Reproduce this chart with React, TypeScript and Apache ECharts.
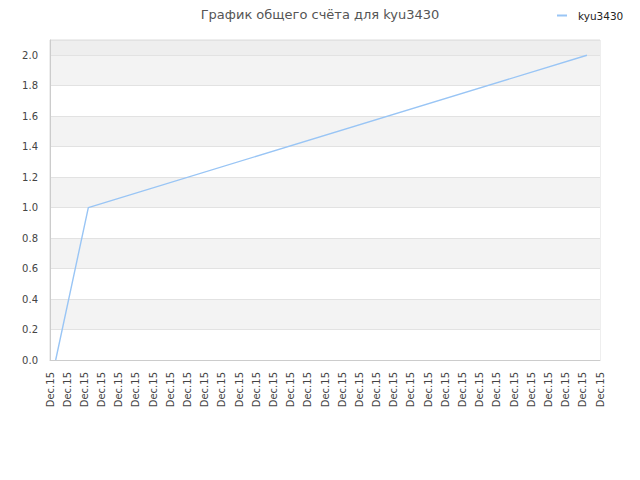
import React, { useEffect, useRef } from 'react';
import * as echarts from 'echarts';

// score history for kyu3430 (x = position along the time axis, in label steps)
const pointX = [0.33, 2.23, 31.24];
const pointY = [0, 1, 2];
const tickLabel = 'Dec.15';
const tickCount = 33;
const seriesName = 'kyu3430';
const titleText = 'График общего счёта для kyu3430';

// alternating bands, top partial band a bit darker
const bandColors = [
  '#ffffff', '#f3f3f3', '#ffffff', '#f3f3f3', '#ffffff', '#f3f3f3',
  '#ffffff', '#f3f3f3', '#ffffff', '#f3f3f3', '#eeeeee',
];

const font = 'DejaVu Sans';

const App: React.FC = () => {
  const chartRef = useRef<HTMLDivElement>(null);

  useEffect(() => {
    if (!chartRef.current) return;
    const chart = echarts.init(chartRef.current, undefined, { renderer: 'svg' });

    const option = {
      animation: false,
      textStyle: { fontFamily: font },
      title: {
        text: titleText,
        left: 'center',
        top: 3,
        textStyle: { fontFamily: font, fontSize: 13, fontWeight: 'normal', color: '#555555' },
      },
      legend: {
        left: 552,
        top: 5,
        itemWidth: 10,
        itemHeight: 2,
        icon: 'rect',
        textStyle: { fontFamily: font, fontSize: 10.5, color: '#222222', padding: [0, 0, 0, 6] },
        data: [seriesName],
      },
      grid: {
        left: 50,
        right: 40,
        top: 40,
        bottom: 120,
        show: true,
        borderColor: '#dddddd',
        borderWidth: 1,
      },
      xAxis: {
        type: 'value',
        min: 0,
        max: tickCount - 1,
        interval: 1,
        axisLine: { lineStyle: { color: '#cccccc' } },
        axisTick: { show: false },
        splitLine: { show: false },
        axisLabel: {
          rotate: 90,
          margin: 12,
          fontFamily: font,
          fontSize: 10,
          color: '#444444',
          formatter: () => tickLabel,
        },
      },
      yAxis: {
        type: 'value',
        min: 0,
        max: 2.1,
        interval: 0.2,
        axisLine: { show: true, lineStyle: { color: '#cccccc' } },
        axisTick: { show: false },
        splitLine: { lineStyle: { color: '#e2e2e2' } },
        splitArea: { show: true, areaStyle: { color: bandColors } },
        axisLabel: {
          margin: 12,
          fontFamily: font,
          fontSize: 10,
          color: '#444444',
          formatter: (v: number) => (v > 2.05 ? '' : v.toFixed(1)),
        },
      },
      series: [
        {
          name: seriesName,
          type: 'line',
          data: pointX.map((x, i) => [x, pointY[i]]),
          showSymbol: false,
          symbol: 'none',
          lineStyle: { color: '#99c5f5', width: 1.4 },
          itemStyle: { color: '#99c5f5' },
        },
      ],
    };

    chart.setOption(option);
    return () => {
      chart.dispose();
    };
  }, []);

  return (
    <div
      ref={chartRef}
      style={{ position: 'absolute', left: 0, top: 0, width: '640px', height: '480px', background: '#ffffff' }}
    />
  );
};

export default App;
